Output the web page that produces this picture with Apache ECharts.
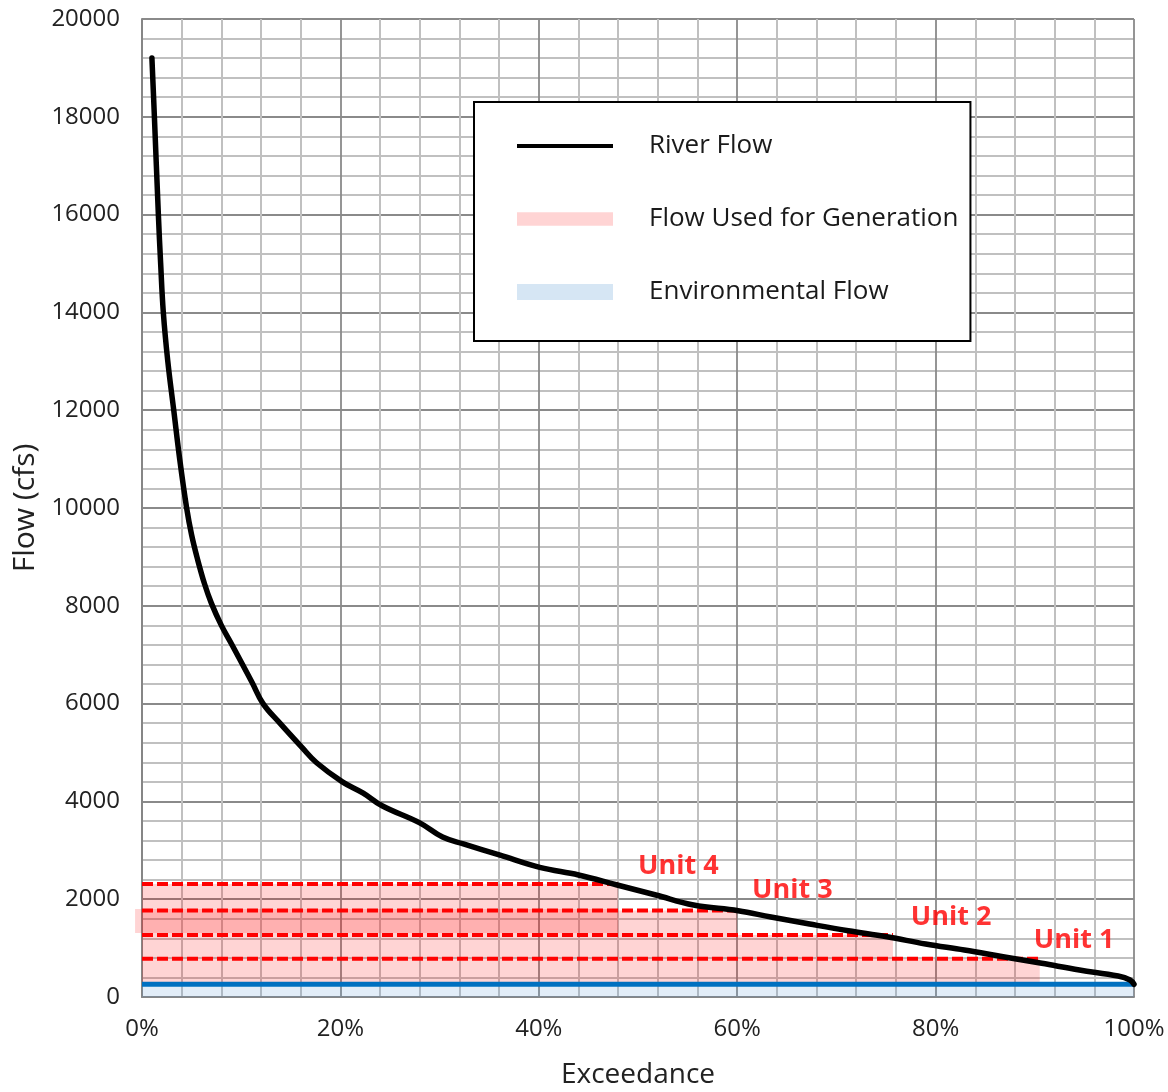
<!DOCTYPE html>
<html>
<head>
<meta charset="utf-8">
<script src="https://cdn.jsdelivr.net/npm/echarts@6/dist/echarts.min.js"></script>
<style>
  html, body { margin: 0; padding: 0; background: #ffffff; }
  #chart { width: 1168px; height: 1092px; }
</style>
</head>
<body>
<div id="chart"></div>
<script>
// Flow duration curve (percent of time a flow is exceeded, flow in cfs)
const exceedancePct = [1.0, 1.25, 1.65, 1.88, 2.15, 2.6, 3.2, 3.8, 4.5, 5.0, 5.6, 6.3, 7.0, 8.0, 9.0, 10.0, 11.1, 12.2, 13.9, 16.1, 17.6, 20.2, 22.3, 24.2, 28.0, 30.3, 32.4, 36.1, 40.1, 44.0, 47.9, 51.8, 55.6, 60.1, 63.4, 67.3, 71.2, 75.1, 79.0, 82.9, 86.8, 90.7, 94.5, 98.4, 99.6, 100];
const riverFlowCfs = [19200, 18000, 16000, 15000, 14000, 13000, 12000, 11000, 10000, 9450, 8950, 8450, 8050, 7600, 7230, 6850, 6430, 6000, 5600, 5110, 4790, 4400, 4170, 3910, 3560, 3270, 3130, 2900, 2650, 2495, 2290, 2086, 1881, 1765, 1636, 1493, 1356, 1233, 1084, 961, 824, 689, 552, 429, 348, 260];

// Environmental (bypass) flow kept in the river
const environmentalFlowCfs = 260;

// Turbine units: cumulative flow level and the exceedance at which each unit runs out of water
const unitNames = ['Unit 1', 'Unit 2', 'Unit 3', 'Unit 4'];
const unitFlowCfs = [780, 1270, 1770, 2310];
const unitEndPct = [90.5, 75.7, 60, 48];

// Where each unit's name is written (exceedance %, flow cfs)
const unitLabelPct = [89.9, 77.5, 61.5, 50.0];
const unitLabelCfs = [1150, 1620, 2190, 2670];

// Extra generation band drawn over the Unit 3 band: [x from, x to, flow low, flow high]
const overlapBand = [-0.7, 48, 1310, 1800];

// Axis ranges and tick steps
const xRange = [0, 100], xStep = 20;
const yRange = [0, 20000], yStep = 2000;

const FONT = '"Open Sans", "Noto Sans", sans-serif';

// Generation bands: each unit fills from the level below it up to its own level
const generationBands = unitFlowCfs.map((lvl, i) => [
  0, unitEndPct[i], i === 0 ? environmentalFlowCfs : unitFlowCfs[i - 1], lvl
]);
generationBands.push(overlapBand);

const riverData = exceedancePct.map((x, i) => [x, riverFlowCfs[i]]);

const unitLineSeries = unitNames.map((name, i) => ({
  name: name,
  type: 'line',
  data: [[0, unitFlowCfs[i]], [unitEndPct[i], unitFlowCfs[i]]],
  showSymbol: false,
  silent: true,
  z: 4,
  lineStyle: { color: '#ff0000', width: 4, type: [11, 4], cap: 'butt' }
}));

const chart = echarts.init(document.getElementById('chart'), null, { renderer: 'canvas' });

chart.setOption({
  animation: false,
  backgroundColor: '#ffffff',
  grid: { left: 142, right: 34, top: 19, bottom: 95, containLabel: false, outerBoundsMode: 'none' },
  xAxis: {
    type: 'value',
    min: xRange[0], max: xRange[1], interval: xStep,
    name: 'Exceedance',
    nameLocation: 'middle',
    nameGap: 64,
    nameTextStyle: { fontFamily: FONT, fontSize: 28, color: '#222222' },
    axisLine: { show: true, lineStyle: { color: '#868686', width: 2 } },
    axisTick: { show: false },
    axisLabel: { formatter: '{value}%', fontFamily: FONT, fontSize: 24, color: '#222222', margin: 20 },
    splitLine: { show: true, lineStyle: { color: '#8a8a8a', width: 1.8 } },
    minorTick: { show: false, splitNumber: 5 },
    minorSplitLine: { show: true, lineStyle: { color: '#c0c0c0', width: 2 } }
  },
  yAxis: {
    type: 'value',
    min: yRange[0], max: yRange[1], interval: yStep,
    name: 'Flow (cfs)',
    nameLocation: 'middle',
    nameGap: 92,
    nameTextStyle: { fontFamily: FONT, fontSize: 30, color: '#222222' },
    axisLine: { show: true, lineStyle: { color: '#868686', width: 2 } },
    axisTick: { show: false },
    axisLabel: { formatter: (v) => String(v), fontFamily: FONT, fontSize: 24, color: '#222222', margin: 22 },
    splitLine: { show: true, lineStyle: { color: '#8a8a8a', width: 1.8 } },
    minorTick: { show: false, splitNumber: 5 },
    minorSplitLine: { show: true, lineStyle: { color: '#c0c0c0', width: 2 } }
  },
  legend: {
    orient: 'vertical',
    left: 474,
    top: 102,
    selectedMode: false,
    backgroundColor: '#ffffff',
    borderColor: '#000000',
    borderWidth: 2,
    borderRadius: 0,
    padding: [31, 12, 36, 43],
    itemWidth: 96,
    itemHeight: 16,
    itemGap: 47,
    textStyle: { fontFamily: FONT, fontSize: 26, color: '#1a1a1a', lineHeight: 24, padding: [0, 0, 0, 31] },
    data: [
      { name: 'River Flow', icon: 'path://M0,0H96V4H0Z', itemStyle: { color: '#000000' } },
      { name: 'Flow Used for Generation', icon: 'path://M0,0H100V14H0Z', itemStyle: { color: '#ffd4d4' } },
      { name: 'Environmental Flow', icon: 'path://M0,0H96V16H0Z', itemStyle: { color: '#d6e6f4' } }
    ]
  },
  series: [
    {
      name: 'Flow Used for Generation',
      type: 'custom',
      z: 2,
      silent: true,
      clip: false,
      itemStyle: { color: '#ffd4d4' },
      encode: { x: [0, 1], y: [2, 3] },
      data: generationBands,
      renderItem: function (params, api) {
        const topLeft = api.coord([api.value(0), api.value(3)]);
        const bottomRight = api.coord([api.value(1), api.value(2)]);
        return {
          type: 'rect',
          shape: {
            x: topLeft[0], y: topLeft[1],
            width: bottomRight[0] - topLeft[0],
            height: bottomRight[1] - topLeft[1]
          },
          style: { fill: 'rgba(255, 0, 0, 0.17)' }
        };
      }
    },
    {
      name: 'Environmental Flow',
      type: 'line',
      z: 3,
      silent: true,
      showSymbol: false,
      data: [[xRange[0], environmentalFlowCfs], [xRange[1], environmentalFlowCfs]],
      lineStyle: { color: '#0070c0', width: 5 },
      itemStyle: { color: '#d6e6f4' },
      areaStyle: { color: 'rgba(91, 155, 213, 0.25)' }
    },
    ...unitLineSeries,
    {
      name: 'River Flow',
      type: 'line',
      z: 5,
      silent: true,
      showSymbol: false,
      smooth: 0.4,
      data: riverData,
      itemStyle: { color: '#000000' },
      lineStyle: { color: '#000000', width: 5.5, cap: 'round', join: 'round' }
    },
    {
      name: 'Unit labels',
      type: 'scatter',
      z: 6,
      silent: true,
      symbolSize: 0,
      data: unitNames.map((n, i) => ({ value: [unitLabelPct[i], unitLabelCfs[i]], name: n })),
      label: {
        show: true,
        position: 'right',
        distance: 0,
        formatter: '{b}',
        fontFamily: FONT,
        fontSize: 27,
        fontWeight: 'bold',
        color: '#ff0000'
      }
    }
  ]
});
</script>
</body>
</html>
